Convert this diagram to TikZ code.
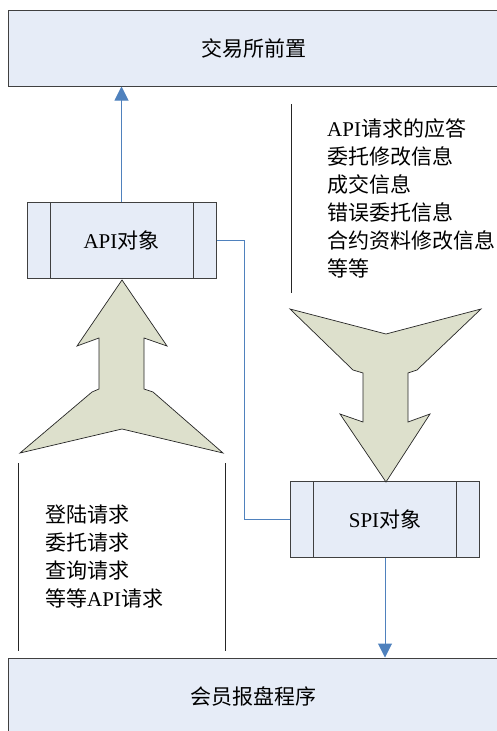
\documentclass[tikz,border=0pt]{standalone}
\usepackage{fontspec}
\setmainfont{Liberation Serif}
\newfontfamily\cjk{Noto Sans CJK SC}
\usetikzlibrary{arrows.meta}
\definecolor{boxfill}{HTML}{E6ECF7}
\definecolor{bigarrow}{HTML}{DDE0CC}
\definecolor{linkblue}{HTML}{4F81BD}
\tikzset{
  layer/.style={draw=black!75,fill=boxfill,line width=1pt,minimum width=491pt,minimum height=76pt,inner sep=0pt,font=\fontsize{21}{28}\selectfont},
  object/.style={draw=black!75,fill=boxfill,line width=1pt,minimum width=189pt,minimum height=76pt,inner sep=0pt,font=\fontsize{21}{28}\selectfont,
    path picture={\draw[black!75,line width=1pt] ([xshift=23pt]path picture bounding box.north west) -- ([xshift=23pt]path picture bounding box.south west)
      ([xshift=-23pt]path picture bounding box.north east) -- ([xshift=-23pt]path picture bounding box.south east);}},
  link/.style={linkblue,line width=1pt},
  flow/.style={draw=black!85,fill=bigarrow,line width=0.7pt},
  msg/.style={align=left,inner sep=0pt,font=\fontsize{21}{28}\selectfont}
}
\begin{document}
\begin{tikzpicture}[x=1pt,y=-1pt]
	\useasboundingbox (0,0) rectangle (496,731);
	\node[layer] (front) at (253.5,48) {\cjk 交易所前置};
	\node[layer] (member) at (253.5,696) {\cjk 会员报盘程序};
	\node[object] (api) at (121.5,240) {API{\cjk 对象}};
	\node[object] (spi) at (385,519.5) {SPI{\cjk 对象}};
	\draw[link,-{Triangle[width=14pt,length=14pt]}] (api) -- (api |- front.south);
	\draw[link,-{Triangle[width=14pt,length=14pt]}] (spi) -- (spi |- member.north);
	\draw[link] (api.east) -- ++(28,0) |- (spi.west);
	\draw[flow] (122,280) -- (167,346) -- (144,338) -- (144,389) -- (153,392) -- (223,453) -- (122,429)
		-- (20,453) -- (92,392) -- (99,389) -- (99,338) -- (77,346) -- cycle;
	\draw[flow] (290,309) -- (386,334) -- (481,309) -- (417,370) -- (408,373) -- (408,422) -- (430,414)
		-- (386,482) -- (340,414) -- (363,422) -- (363,373) -- (353,370) -- cycle;
	\draw[black!85,line width=0.8pt] (291,104) -- (291,293);
	\draw[black!85,line width=0.8pt] (18,463) -- (18,651);
	\draw[black!85,line width=0.8pt] (225,463) -- (225,651);
	\node[msg,anchor=west] (answers) at (327,198) {API{\cjk 请求的应答}\\{\cjk 委托修改信息}\\{\cjk 成交信息}\\{\cjk 错误委托信息}\\{\cjk 合约资料修改信息}\\{\cjk 等等}};
	\node[msg,anchor=west] (requests) at (45,557) {{\cjk 登陆请求}\\{\cjk 委托请求}\\{\cjk 查询请求}\\{\cjk 等等}API{\cjk 请求}};
\end{tikzpicture}
\end{document}
